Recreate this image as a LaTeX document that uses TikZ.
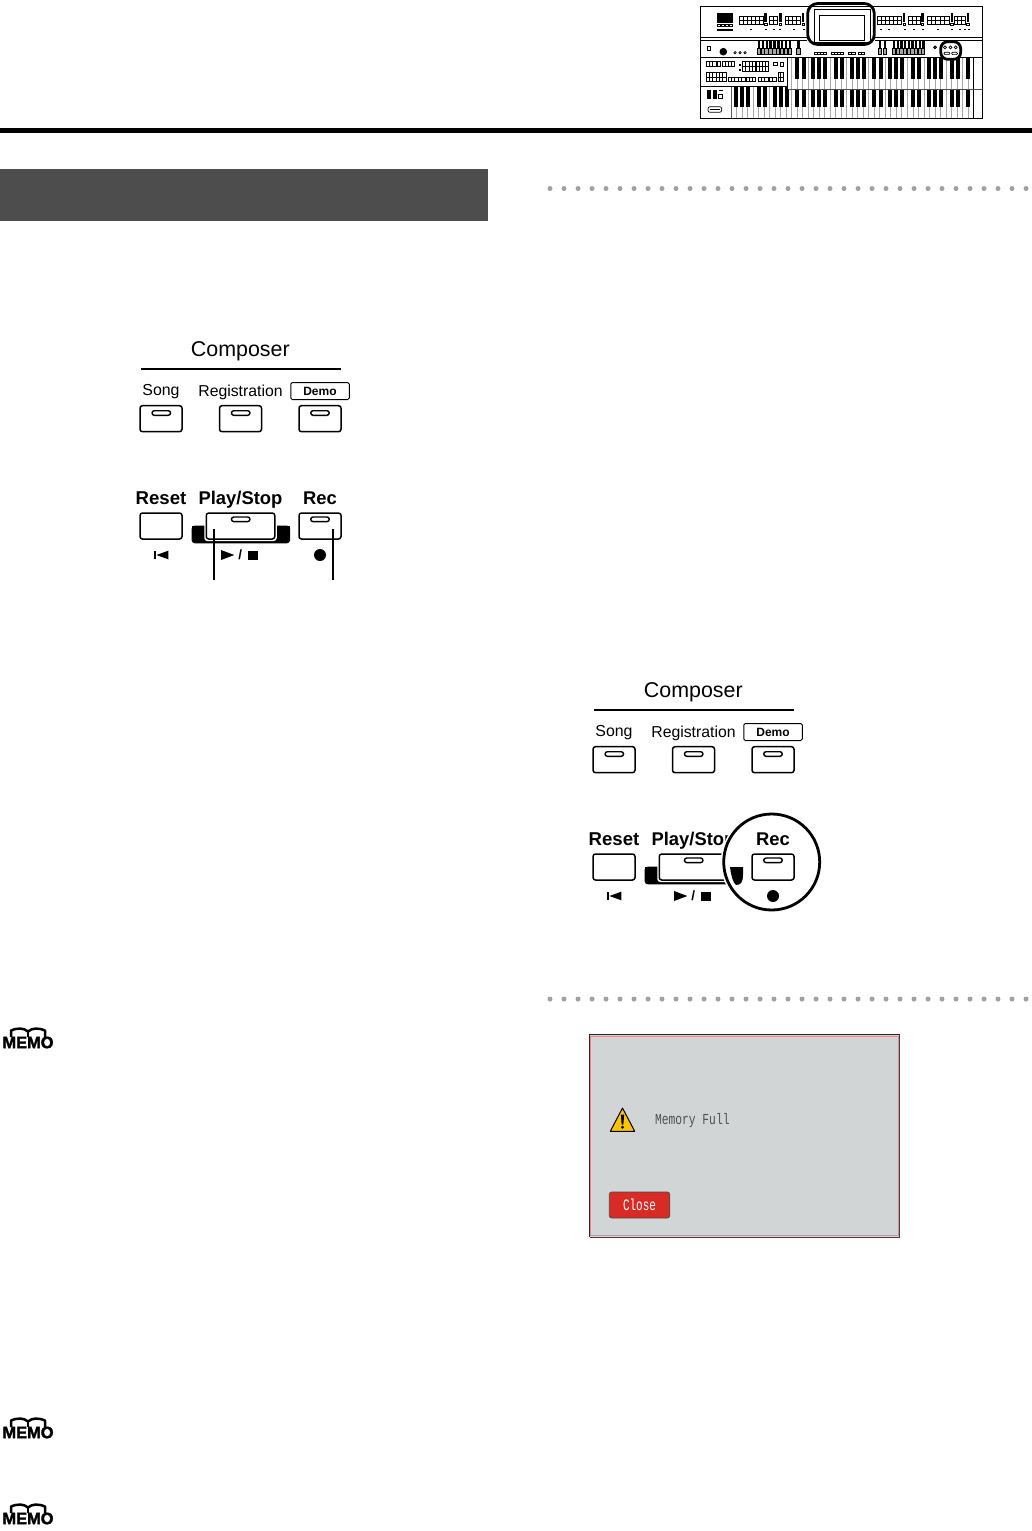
\documentclass[tikz,border=0pt]{standalone}
\usepackage{fontspec}
\setmainfont{Liberation Sans}
\newfontfamily\lcdfont{Liberation Mono}
\newfontfamily\memofont[FakeBold=2.2]{Liberation Sans Bold}
\definecolor{bannergray}{HTML}{4D4D4D}
\definecolor{dotgray}{HTML}{A0A0A0}
\definecolor{lcdgray}{HTML}{D1D5D5}
\definecolor{closered}{HTML}{D92B25}
\definecolor{warnyellow}{HTML}{FDC300}
\definecolor{lcdtext}{HTML}{505050}
\definecolor{darkred}{HTML}{7A2A26}
\definecolor{keyline}{HTML}{A8A8A8}
\newcommand{\fsz}[1]{\fontsize{#1}{#1}\selectfont}
\tikzset{
  px/.style={x=1pt,y=-1pt},
  btn/.style={draw=black,line width=1.5pt,fill=white,rounded corners=2.5pt,inner sep=0pt,outer sep=0pt,minimum width=42pt,minimum height=26pt},
  led/.style={draw=black,line width=1.4pt,fill=white,rounded corners=2.3pt,inner sep=0pt,minimum width=18.5pt,minimum height=4.6pt},
  lbl/.style={inner sep=0pt,text=black},
  leader/.style={line width=2pt,black},
  thumb/.style={line width=0.7pt,black},
  thick ring/.style={line width=2.8pt,black,rounded corners=10pt},
  memotxt/.style={inner sep=0pt,font=\memofont\fsz{16.4}}
}
% rectangle with vertical and middle lines
\newcommand{\gridbox}[5]{%
  \draw[thumb] (#1,#2) rectangle (#3,#4);
  \draw[thumb] (#1,{(#2+#4)/2}) -- (#3,{(#2+#4)/2});
  \foreach \gi in {1,...,#5}{\draw[thumb] ({#1+(#3-#1)*\gi/(#5+1)},#2) -- ({#1+(#3-#1)*\gi/(#5+1)},#4);}
}
\newcommand{\rowbox}[5]{%
  \draw[thumb] (#1,#2) rectangle (#3,#4);
  \foreach \gi in {1,...,#5}{\draw[thumb] ({#1+(#3-#1)*\gi/(#5+1)},#2) -- ({#1+(#3-#1)*\gi/(#5+1)},#4);}
}
% the Composer button group
\newcommand{\panel}[3]{%
\begin{scope}[shift={(#2,#3)}]
  \node[lbl,font=\fsz{21.4}] (#1comp) at (240.3,351) {Composer};
  \coordinate (#1ruleL) at (141,369);
  \coordinate (#1ruleR) at (341,369);
  \draw[line width=1.5pt] (#1ruleL) -- (#1ruleR);
  \node[lbl,font=\fsz{15.9}] (#1song) at (161,392) {Song};
  \node[lbl,font=\fsz{15.8}] (#1reg) at (240.5,392) {Registration};
  \node[draw=black,line width=1pt,rounded corners=1.5pt,minimum width=58.5pt,minimum height=17pt,inner sep=0pt,font=\fsz{12}\bfseries] (#1demo) at (320,391) {Demo};
  \node[btn] (#1bsong) at (161,418.7) {};
  \node[btn] (#1breg) at (240.5,418.7) {};
  \node[btn] (#1bdemo) at (320,418.7) {};
  \node[led] (#1lsong) at (161.3,413) {};
  \node[led] (#1lreg) at (240.7,413) {};
  \node[led] (#1ldemo) at (320,413) {};
  \node[lbl,font=\fsz{18.6}\bfseries] (#1reset) at (161,498) {Reset};
  \node[lbl,font=\fsz{18.4}\bfseries] (#1play) at (240.5,499.7) {Play/Stop};
  \node[lbl,font=\fsz{18.4}\bfseries] (#1rec) at (320,498) {Rec};
  \node[btn] (#1breset) at (161,526) {};
  \fill[black,rounded corners=3pt] (191.7,525.7) -- (290,525.7) -- (290,543.3) -- (191.7,543.3) -- cycle;
  \fill[black] (191.7,525.7) rectangle (290,532);
  \node[fill=white,rounded corners=3pt,inner sep=0pt,minimum width=72.5pt,minimum height=30pt] (#1bplayhalo) at (240.5,526) {};
  \node[btn,minimum width=68.5pt] (#1bplay) at (240.5,526) {};
  \node[btn] (#1brec) at (320,526) {};
  \node[led] (#1lplay) at (240.7,519.3) {};
  \node[led] (#1lrec) at (320,519.3) {};
  \fill (154.3,550.7) rectangle (156.4,559.3);
  \fill (156.4,555) -- (168.3,550.7) -- (168.3,559.3) -- cycle;
  \fill (221,550) -- (234.3,555) -- (221,560) -- cycle;
  \node[lbl,font=\fsz{13.5}\bfseries] (#1slash) at (240.3,555) {/};
  \fill (248.3,550.5) rectangle (257.7,559.8);
  \node[circle,fill=black,inner sep=0pt,minimum size=12pt] (#1dot) at (320,555) {};
\end{scope}}
% MEMO icon
\newcommand{\memoicon}[2]{%
\begin{scope}[shift={(0,#2)}]
  \draw[line width=2.5pt,black,line join=round] (11,1037) -- (11,1030.5) .. controls (18,1027.5) and (24,1028) .. (28,1031.5) .. controls (32,1028) and (38,1027.5) .. (45,1030.5) -- (45,1037);
  \draw[line width=1.2pt,black] (28,1031.5) -- (28,1037);
  \node[memotxt] (#1) at (28,1042.5) {MEMO};
\end{scope}}
\begin{document}
\begin{tikzpicture}[px]
\useasboundingbox (0,0) rectangle (1032,1531);
\fill[white] (0,0) rectangle (1032,1531);
% header rule and banner
\fill[black] (0,128) rectangle (1032,132.5);
\fill[bannergray] (0,169) rectangle (488,221);
% dotted separators
\foreach \i in {0,...,34}{
  \fill[dotgray] ({550+14*\i},188.5) circle (2.5pt);
  \fill[dotgray] ({550+14*\i},999) circle (2.5pt);
}
% ---- organ thumbnail ----
\fill[white] (700.5,6.5) rectangle (982.5,118);
% top panel
\fill (716.7,13.3) rectangle (733.3,23);
\foreach \x in {717.5,721.5,725.5,729.5}{
  \draw[thumb] (\x,24.5) rectangle +(2.6,2.2);
  \draw[thumb,line width=0.9pt] (\x,29) rectangle +(2.6,1.2);
}
\gridbox{739}{16}{763}{24}{5}
\gridbox{769}{16}{777}{24}{1}
\gridbox{785}{16}{800}{24}{3}
\gridbox{877.7}{16}{901.7}{24}{5}
\gridbox{908}{16}{920}{24}{2}
\gridbox{927}{16}{949}{24}{4}
\gridbox{954}{16}{965}{24}{2}
\foreach \xa/\xb in {764.3/767,779.3/781.8,802/804.3,903/905.3,921.3/923.6,950.7/953.3,966.7/969.3}{
  \fill (\xa,13) rectangle (\xb,22);
  \draw[thumb] (\xa,23.5) rectangle (\xb,25.8);
}
\foreach \x in {750,765,773,779,793,803,880,888,903.5,913,922,937,951,959,964,968}{
  \fill (\x,28.5) rectangle +(2.2,1.8);
}
% divider
\draw[thumb] (700.5,37.5) -- (807,37.5);
\draw[thumb] (700.5,40.5) -- (807,40.5);
\draw[thumb] (875,37.5) -- (982.5,37.5);
\draw[thumb] (875,40.5) -- (982.5,40.5);
% second row
\draw[line width=0.9pt] (707.3,46.7) rectangle (710.7,50);
\fill (723.3,51.7) circle (3.8pt);
\foreach \x in {735,740,745}{\draw[thumb] (\x,52.7) circle (1.2pt);}
\foreach \i in {0,...,8}{
  \fill ({757.7+\i*3.9},39.5) rectangle +(2.3,8.5);
  \draw[thumb,fill=black!35] ({757+\i*3.9},48) rectangle +(3.3,6);
}
\fill (797.3,39.5) rectangle +(2.3,8.5);
\draw[thumb,fill=black!35] (796.7,48) rectangle +(3.3,6);
\foreach \x in {879,883.5}{
  \fill (\x,39.5) rectangle +(2.3,8.5);
  \draw[thumb,fill=black!35] (\x-0.5,48) rectangle +(3.3,6);
}
\foreach \i in {0,...,8}{
  \fill ({893+\i*3.65},39.5) rectangle +(2.3,8.5);
  \draw[thumb,fill=black!35] ({892.5+\i*3.65},48) rectangle +(3.1,6);
}
\draw[thumb] (935,47.3) circle (1.3pt);
\rowbox{814}{52}{826}{54.5}{3}
\rowbox{831}{52}{843}{54.5}{3}
\rowbox{848}{52}{855}{54.5}{1}
\rowbox{858}{52}{864}{54.5}{1}
% screen
\draw[line width=0.6pt] (814,9.3) rectangle (870,42.7);
\draw[line width=0.8pt] (819.3,15) rectangle (864,40.7);
% lower keyboard
\begin{scope}
  \clip (731,86) rectangle (976,118);
  \foreach \n in {-1,...,5}{
    \foreach \o in {0,5.5,11,16.5,22,27.5,33}{
      \draw[keyline,line width=1pt] ({758.6+38.6*\n+\o},86) -- ({758.6+38.6*\n+\o},118);
    }
  }
\end{scope}
\begin{scope}
  \clip (733,86) rectangle (970,118);
  \foreach \n in {-1,...,5}{
    \foreach \o in {0,6.3,16,22,28}{
      \fill[black] ({758.6+38.6*\n+\o-2},86) rectangle +(4,21.3);
    }
  }
\end{scope}
\draw[line width=0.9pt,black!65] (731,86) -- (731,118);
% upper keyboard
\fill[white] (788,57.5) rectangle (982.5,89.5);
\begin{scope}
  \clip (788,57.5) rectangle (976,89.5);
  \foreach \n in {-1,...,5}{
    \foreach \o in {0,5.5,11,16.5,22,27.5,33}{
      \draw[keyline,line width=1pt] ({758.6+38.6*\n+\o},57.5) -- ({758.6+38.6*\n+\o},89.5);
    }
  }
\end{scope}
\begin{scope}
  \clip (789.5,57.5) rectangle (970,89.5);
  \foreach \n in {-1,...,5}{
    \foreach \o in {0,6.3,16,22,28}{
      \fill[black] ({758.6+38.6*\n+\o-2},57.5) rectangle +(4,21.8);
    }
  }
\end{scope}
\draw[line width=0.8pt] (973.5,57.5) -- (973.5,118);
\draw[line width=0.7pt,black!70] (788,89.5) -- (982.5,89.5);
\draw[line width=0.9pt] (700.5,57.5) -- (982.5,57.5);
\draw[line width=0.9pt] (700.5,86.5) -- (787.5,86.5) -- (787.5,89.5);
\draw[line width=0.9pt] (787.5,57.5) -- (787.5,89.5);
% left panel details
\rowbox{706}{61.7}{716}{66}{2}
\rowbox{717.5}{61.7}{720.5}{66}{0}
\rowbox{722}{61.7}{734.5}{66}{3}
\foreach \y in {64,69}{\fill (738.5,\y) rectangle +(2.4,2);}
\gridbox{742.7}{61.7}{755}{71.7}{3}
\gridbox{756.5}{61.7}{768.3}{71.7}{3}
\draw[thumb] (773.5,62.5) rectangle (777.5,65.5);
\draw[thumb] (780,62) rectangle (783.5,66);
\gridbox{706}{72.3}{726}{81.7}{5}
\rowbox{728}{77.5}{745}{81.7}{4}
\rowbox{746.7}{77.5}{755}{81.7}{2}
\rowbox{758}{77.5}{768}{81.7}{2}
\rowbox{769.5}{77.5}{776}{81.7}{1}
\gridbox{778}{72.3}{783.5}{81.7}{1}
% lower-left block
\fill (707.3,90) rectangle (711,99.3);
\fill (712.7,90) rectangle (716.7,99.3);
\fill (718.5,89.5) rectangle (722.5,90.7);
\draw[thumb] (718.5,94) rectangle (722.5,98.8);
\draw[thumb,rounded corners=2pt] (708,106.7) rectangle (721.7,112.3);
\draw[thumb] (710,109.5) -- (719.5,109.5);
% outer frame
\draw[line width=0.9pt] (700.5,6.5) rectangle (982.5,118);
% highlights
\draw[thick ring] (807.7,3.5) rectangle (874.3,44.5);
\fill[white,rounded corners=7pt] (941,42) rectangle (960.5,59);
\draw[thumb] (935,47.3) circle (1.3pt);
\foreach \x in {945,950.5,955.7}{\draw[thumb] (\x,47.3) circle (1.5pt);}
\draw[thumb,rounded corners=1pt] (944,52.2) rectangle (949.7,54.6);
\draw[thumb,rounded corners=1pt] (951.7,52.2) rectangle (957.4,54.6);
\draw[thick ring,rounded corners=7pt] (940.7,41.7) rectangle (960.7,59.3);
% ---- button groups ----
\panel{a}{0}{0}
\coordinate (leadAtop) at (214.3,529);
\coordinate (leadAend) at (214.3,580);
\coordinate (leadBtop) at (332.5,529);
\coordinate (leadBend) at (332.5,580);
\draw[leader] (leadAtop) -- (leadAend);
\draw[leader] (leadBtop) -- (leadBend);
\panel{b}{453}{341}
% magnifying circle
\fill[white] (771.7,862) circle (51pt);
\fill[black] (730,867) -- (743,867) -- (743,875) .. controls (743,882) and (741,885) .. (736,885) .. controls (733,883) and (731,875) .. (730,867) -- cycle;
\node[btn] (cbrec) at (773,867) {};
\node[led] (clrec) at (773,860.3) {};
\node[lbl,font=\fsz{18.4}\bfseries] (crec) at (773,839) {Rec};
\node[circle,fill=black,inner sep=0pt,minimum size=12pt] (cdot) at (773,896) {};
\draw[line width=2.8pt] (771.7,862) circle (48pt);
% ---- Memory Full screen ----
\fill[lcdgray] (589.7,1034.7) rectangle (899.7,1237.3);
\draw[line width=0.8pt,black!85] (899.7,1034.7) -- (589.7,1034.7) -- (589.7,1237.3);
\draw[line width=0.6pt,red!50!white] (590.7,1236) -- (590.7,1035.8) -- (898.5,1035.8);
\draw[line width=1.2pt,darkred] (589.7,1237.2) -- (899.4,1237.2) -- (899.4,1034.7);
\draw[line width=0.7pt,black!35] (591,1235.6) -- (898,1235.6) -- (898,1036);
\draw[line width=1pt,black,fill=warnyellow,line join=round] (622.5,1108) -- (634.7,1131.3) -- (610.3,1131.3) -- cycle;
\fill[black] (620.9,1114.5) -- (624.1,1114.5) -- (623.4,1124.5) -- (621.6,1124.5) -- cycle;
\fill[black] (622.5,1127.3) circle (1.6pt);
\node[lbl,text=lcdtext,font=\lcdfont\fsz{11.3},anchor=west] (memfull) at (654.8,1120.5) {\scalebox{1}[1.35]{Memory Full}};
\node[fill=closered,draw=black!70,line width=0.7pt,rounded corners=2.5pt,minimum width=60.5pt,minimum height=26pt,inner sep=0pt,text=white,font=\lcdfont\fsz{11}] (closebtn) at (639.5,1205) {\scalebox{1}[1.45]{Close}};
% ---- MEMO icons ----
\memoicon{memoA}{0}
\memoicon{memoB}{390}
\memoicon{memoC}{476}
\end{tikzpicture}
\end{document}
